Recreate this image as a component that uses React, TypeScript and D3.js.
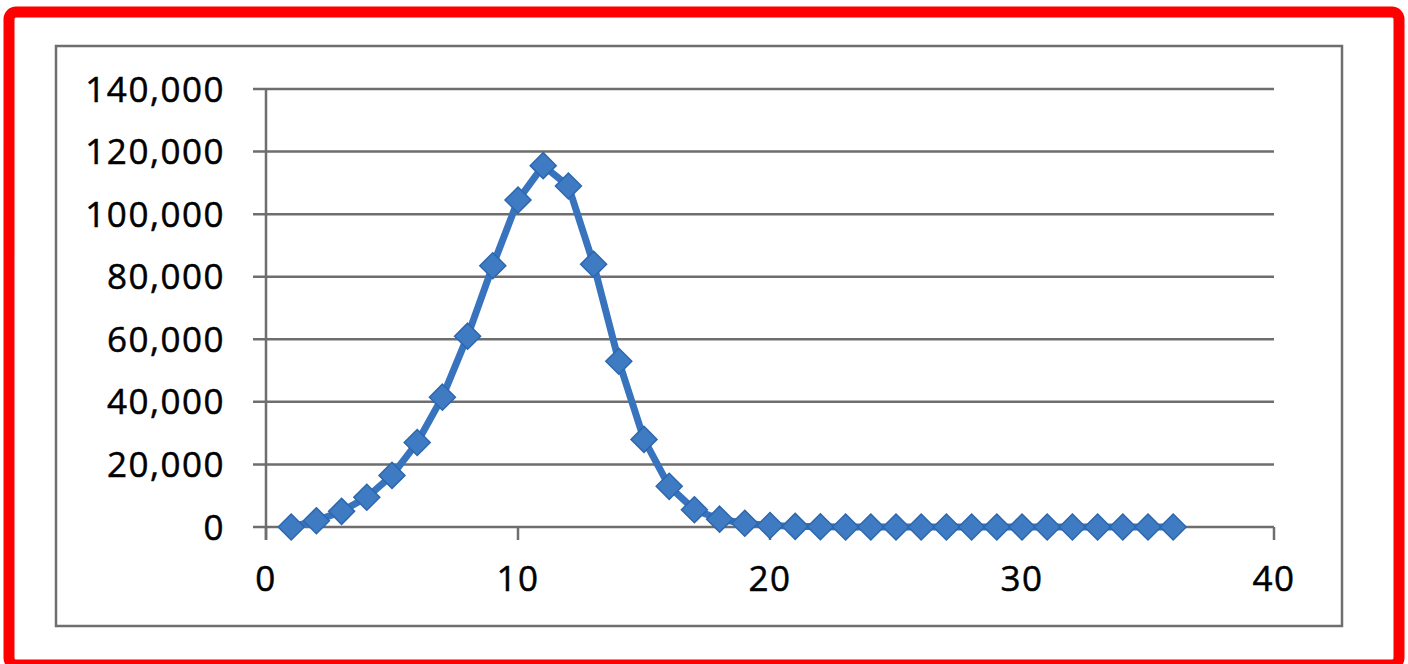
import React from "react";
import * as d3 from "d3";

const xValues = [1,2,3,4,5,6,7,8,9,10,11,12,13,14,15,16,17,18,19,20,21,22,23,24,25,26,27,28,29,30,31,32,33,34,35,36];
const yValues = [0,2000,5000,9500,16500,27000,41500,61000,83500,104500,115500,109000,84000,53000,28000,13000,5500,2500,1200,500,200,100,0,0,0,0,0,0,0,0,0,0,0,0,0,0];
const yTicks = [0,20000,40000,60000,80000,100000,120000,140000];
const xTicks = [0,10,20,30,40];

const W = 1408, H = 664;
const FONT = "'Open Sans', 'Liberation Sans', sans-serif";

export default function App() {
  const x = d3.scaleLinear().domain([0, 40]).range([266, 1274]);
  const y = d3.scaleLinear().domain([0, 140000]).range([527, 89]);
  const fmt = d3.format(",");
  const line = d3.line<number>().x((_, i) => x(xValues[i])).y((d) => y(d));
  const r = 13;
  const diamond = (cx: number, cy: number) =>
    `M${cx},${cy - r}L${cx + r},${cy}L${cx},${cy + r}L${cx - r},${cy}Z`;
  const textStyle = { letterSpacing: "1.5px" } as React.CSSProperties;

  return (
    <svg width={W} height={H} style={{ position: "fixed", left: 0, top: 0, background: "#fff" }}>
      <rect x={0} y={0} width={W} height={H} fill="#fff" />
      <rect x={9} y={12} width={1390} height={653} rx={7} fill="none" stroke="#ff0000" strokeWidth={11} />
      <rect x={56} y={46} width={1286} height={580} fill="none" stroke="#6e6e6e" strokeWidth={2.5} />
      {yTicks.map((t) => (
        <g key={"y" + t}>
          <line x1={253} x2={x(40)} y1={y(t)} y2={y(t)} stroke="#6e6e6e" strokeWidth={2.5} />
          <text x={225} y={y(t) + 12.5} textAnchor="end" fontFamily={FONT} fontSize={35} fill="#000"
            stroke="#000" strokeWidth={0.5} style={textStyle}>
            {fmt(t)}
          </text>
        </g>
      ))}
      <line x1={266} x2={266} y1={y(140000)} y2={540} stroke="#6e6e6e" strokeWidth={2.5} />
      {xTicks.map((t) => (
        <g key={"x" + t}>
          <line x1={x(t)} x2={x(t)} y1={y(0)} y2={540} stroke="#6e6e6e" strokeWidth={2.5} />
          <text x={x(t)} y={591} textAnchor="middle" fontFamily={FONT} fontSize={35} fill="#000"
            stroke="#000" strokeWidth={0.5} style={textStyle}>
            {t}
          </text>
        </g>
      ))}
      <path d={line(yValues) || ""} fill="none" stroke="#3874be" strokeWidth={7} strokeLinejoin="round" />
      {yValues.map((v, i) => (
        <path key={"p" + i} d={diamond(x(xValues[i]), y(v))} fill="#3f7bc3" stroke="#2d67ad" strokeWidth={1.5} />
      ))}
    </svg>
  );
}
